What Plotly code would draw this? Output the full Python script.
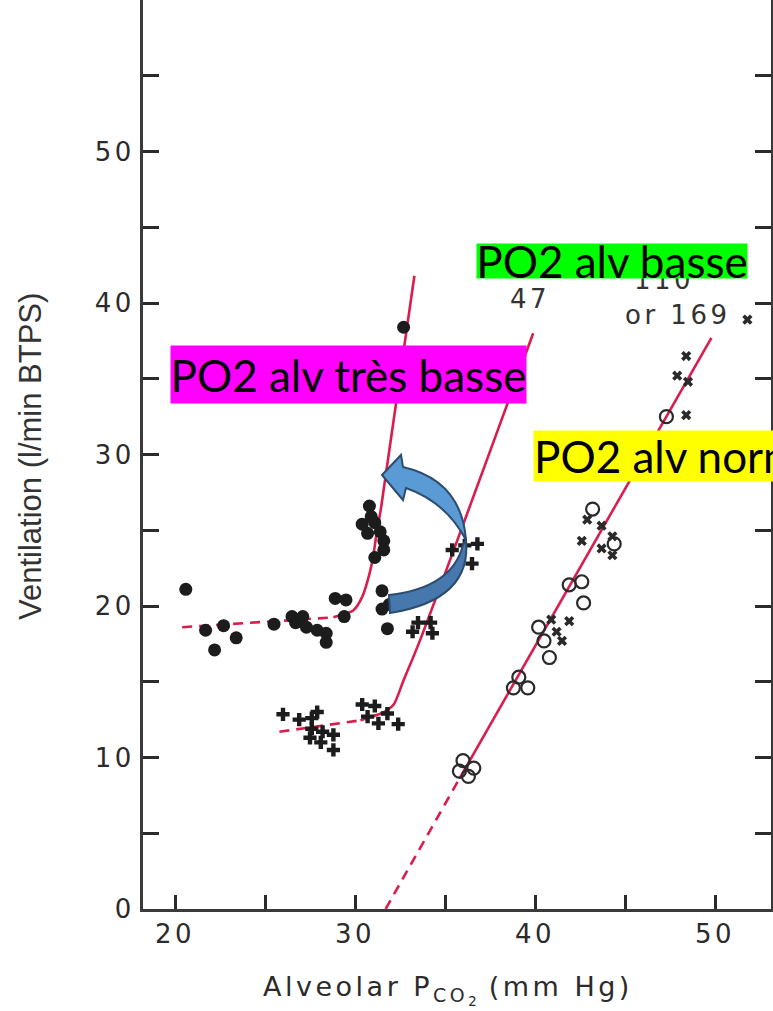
import plotly.graph_objects as go

# ---- measured points: alveolar PCO2 (mm Hg) vs ventilation (l/min BTPS) ----
# alveolar PO2 very low (filled circles)
vlow_pco2 = [20.6, 21.7, 22.2, 22.7, 23.4, 25.5, 26.5, 27.1, 26.7, 27.3, 27.9, 28.4, 28.4,
             28.9, 29.5, 29.4, 31.5, 31.5, 31.8, 31.9, 30.8, 30.9, 30.4, 31.1, 30.7, 31.4,
             31.6, 31.6, 31.1, 32.7]
vlow_vent = [21.1, 18.4, 17.1, 18.7, 17.9, 18.8, 19.3, 19.3, 18.9, 18.6, 18.4, 18.2, 17.6,
             20.5, 20.4, 19.3, 21.0, 19.8, 18.5, 20.1, 26.6, 25.9, 25.4, 25.5, 24.8, 24.9,
             24.3, 23.7, 23.2, 38.4]

# alveolar PO2 47 (plus signs)
low_pco2 = [26.0, 26.9, 27.6, 27.9, 27.6, 27.5, 28.2, 28.8, 28.1, 28.8, 30.4, 31.1, 30.7,
            31.8, 31.3, 32.4, 33.5, 34.2, 33.2, 34.3, 35.4, 36.1, 36.8, 36.5]
low_vent = [12.85, 12.5, 12.6, 13.0, 11.9, 11.3, 11.7, 11.5, 11.0, 10.5, 13.5, 13.4, 12.7,
            12.9, 12.25, 12.2, 18.9, 18.9, 18.3, 18.2, 23.7, 24.0, 24.1, 22.8]

# alveolar PO2 110 (open circles)
n110_pco2 = [36.0, 35.8, 36.6, 36.3, 39.1, 38.8, 39.6, 40.2, 40.5, 40.8, 41.9, 42.6, 42.7,
             43.2, 44.4, 47.3]
n110_vent = [9.8, 9.1, 9.3, 8.75, 15.3, 14.6, 14.6, 18.6, 17.7, 16.6, 21.4, 21.6, 20.2,
             26.4, 24.1, 32.5]

# alveolar PO2 169 (crosses)
n169_pco2 = [40.9, 41.2, 41.5, 41.9, 42.6, 42.9, 43.7, 43.7, 44.3, 44.3, 48.4, 47.9, 48.5,
             48.4, 51.8]
n169_vent = [19.1, 18.3, 17.7, 19.0, 24.3, 25.7, 25.3, 23.8, 24.6, 23.35, 36.5, 35.2, 34.8,
             32.6, 38.9]

# ---- response curves (vertices) ----
vlow_fit_dash_x = [20.4, 28.8]
vlow_fit_dash_y = [18.6, 19.25]
vlow_fit_x = [28.8, 29.2, 29.9, 30.4, 30.8, 31.0, 31.2, 31.45, 33.3]
vlow_fit_y = [19.25, 19.4, 19.7, 20.6, 22.1, 23.2, 24.8, 26.5, 41.8]

low_fit_dash_x = [25.8, 30.3]
low_fit_dash_y = [11.7, 12.45]
low_fit_x = [30.3, 31.2, 31.75, 32.15, 32.7, 33.6, 39.9]
low_fit_y = [12.45, 12.8, 13.1, 13.5, 15.1, 17.7, 38.0]

norm_fit_dash_x = [31.7, 35.8]
norm_fit_dash_y = [0.0, 8.6]
norm_fit_x = [35.8, 49.8]
norm_fit_y = [8.6, 37.7]

# ---- axis ticks ----
x_ticks = [20, 25, 30, 35, 40, 45, 50]
x_tick_labels = ["20", "", "30", "", "40", "", "50"]
y_ticks = [0, 5, 10, 15, 20, 25, 30, 35, 40, 45, 50, 55]
y_tick_labels = ["0", "", "10", "", "20", "", "30", "", "40", "", "50", ""]

# ---- page geometry ----
W, H = 773, 1011
ML, MR, MT, MB = 143, 2, 0, 102
PW, PH = W - ML - MR, H - MT - MB

RED = "#d81e4d"
INK = "#1c1c1c"
WIDE = "letter-spacing:3.5px"


def wide(t):
    return f'<span style="{WIDE}">{t}</span>' if t else ""


def px(xp):
    return (xp - ML) / PW


def py(yp):
    return (MT + PH - yp) / PH


fig = go.Figure()

line_dash = dict(color=RED, width=2.6, dash="10px,7px")

for xs, ys in [(vlow_fit_dash_x, vlow_fit_dash_y), (low_fit_dash_x, low_fit_dash_y),
               (norm_fit_dash_x, norm_fit_dash_y)]:
    fig.add_trace(go.Scatter(x=xs, y=ys, mode="lines", line=line_dash, hoverinfo="skip"))
for xs, ys in [(vlow_fit_x, vlow_fit_y), (low_fit_x, low_fit_y), (norm_fit_x, norm_fit_y)]:
    fig.add_trace(go.Scatter(x=xs, y=ys, mode="lines",
                             line=dict(color=RED, width=2.6, shape="spline", smoothing=0.8),
                             hoverinfo="skip"))

fig.add_trace(go.Scatter(x=vlow_pco2, y=vlow_vent, mode="markers",
                         marker=dict(symbol="circle", size=13, color=INK)))
fig.add_trace(go.Scatter(x=low_pco2, y=low_vent, mode="markers",
                         marker=dict(symbol="cross", size=11, color=INK)))
fig.add_trace(go.Scatter(x=n110_pco2, y=n110_vent, mode="markers",
                         marker=dict(symbol="circle-open", size=13, color="#2a2a2a",
                                     line=dict(width=2.2, color="#2a2a2a"))))
fig.add_trace(go.Scatter(x=n169_pco2, y=n169_vent, mode="markers",
                         marker=dict(symbol="x", size=9, color="#2a2a2a")))

axis_font = dict(family="DejaVu Sans", size=26, color="#2b2b2b")

fig.update_xaxes(range=[20 - 32 / 18, 20 + 596 / 18], tickmode="array", tickvals=x_ticks,
                 ticktext=[wide(t) for t in x_tick_labels], ticks="inside", ticklen=14,
                 tickwidth=3, tickcolor="#2b2b2b", showline=True, linewidth=2.5,
                 linecolor="#3a3a3a", showgrid=False, zeroline=False, tickfont=axis_font,
                 automargin=False)
fig.update_yaxes(range=[0, 60], tickmode="array", tickvals=y_ticks,
                 ticktext=[wide(t) for t in y_tick_labels], ticks="inside", ticklen=16,
                 tickwidth=2.5, tickcolor="#2b2b2b", showline=True, linewidth=3,
                 linecolor="#3a3a3a", mirror="ticks", showgrid=False, zeroline=False,
                 tickfont=axis_font, ticklabelstandoff=0, automargin=False)

label_font = dict(family="DejaVu Sans", size=26, color="#333333")
box_font = dict(family="Lato", size=44, color="#000000")

annotations = [
    dict(x=px(30), y=py(457), text="Ventilation (l/min BTPS)", textangle=-90,
         font=dict(family="Liberation Sans", size=31, color="#333333")),
    dict(x=px(448), y=py(990),
         text=wide("Alveolar P") + "<sub>" + wide("CO") + "<sub>2</sub></sub>"
         + wide(" (mm Hg)"),
         font=dict(family="DejaVu Sans", size=27, color="#2b2b2b")),
    dict(x=px(530), y=py(299), text=wide("47"), font=label_font),
    dict(x=px(664), y=py(280), text=wide("110"), font=label_font),
    dict(x=px(678), y=py(315), text=wide("or 169"), font=label_font),
    # coloured labels
    dict(x=px(476), y=py(243), xanchor="left", yanchor="top", width=270, height=34,
         text="PO2 alv basse", bgcolor="#00ff00", font=box_font, align="center",
         valign="middle"),
    dict(x=px(170), y=py(345), xanchor="left", yanchor="top", width=355, height=57,
         text="PO2 alv très basse", bgcolor="#ff00ff", font=box_font, align="center",
         valign="middle"),
    dict(x=px(533), y=py(430), xanchor="left", yanchor="top", width=360, height=50,
         text="PO2 alv normale", bgcolor="#ffff00", font=box_font, align="left",
         valign="middle"),
]
for a in annotations:
    a.setdefault("xref", "paper")
    a.setdefault("yref", "paper")
    a.setdefault("xanchor", "center")
    a.setdefault("yanchor", "middle")
    a.setdefault("showarrow", False)
    a.setdefault("borderpad", 0)


def path(cmds):
    out = []
    for c in cmds:
        if isinstance(c, str):
            out.append(c)
        else:
            out.append(f"{px(c[0]):.5f},{py(c[1]):.5f}")
    return " ".join(out)


# curved arrow: darker back ribbon then lighter front ribbon with head
arrow_back = path(["M", (466, 540), "Q", (472, 600), (390, 613), "L", (389, 595),
                   "Q", (452, 588), (463, 545), "Z"])
arrow_front = path(["M", (382, 475), "L", (401, 455), "L", (403, 467),
                    "Q", (461.5, 480.5), (466, 540), "Q", (446, 502), (406, 488),
                    "L", (403, 500), "Z"])
shapes = [
    dict(type="path", path=arrow_back, xref="paper", yref="paper", fillcolor="#4677ad",
         line=dict(color="#2c4d70", width=2), layer="above"),
    dict(type="path", path=arrow_front, xref="paper", yref="paper", fillcolor="#5b9bd5",
         line=dict(color="#2c4d70", width=2), layer="above"),
]

fig.update_layout(width=W, height=H, margin=dict(l=ML, r=MR, t=MT, b=MB, pad=0),
                  paper_bgcolor="white", plot_bgcolor="white", showlegend=False,
                  annotations=annotations, shapes=shapes)

fig.write_html("out.html")
